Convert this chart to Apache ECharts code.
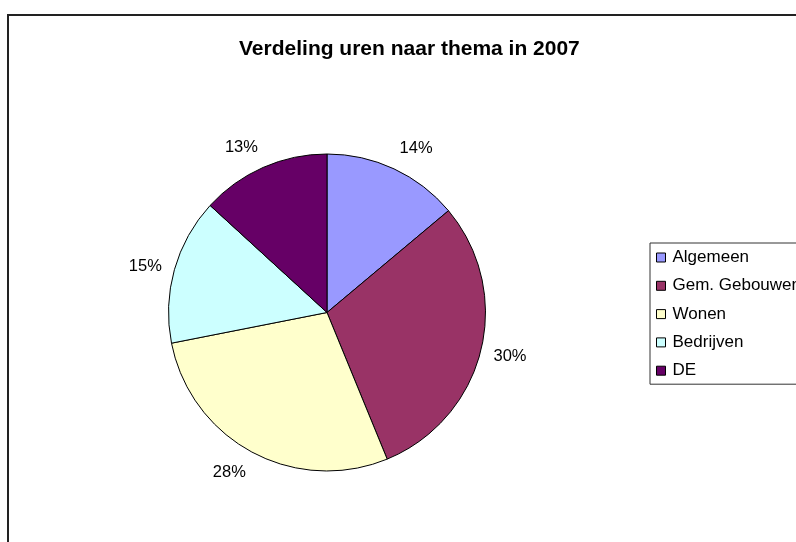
<!DOCTYPE html>
<html>
<head>
<meta charset="utf-8">
<script src="https://cdn.jsdelivr.net/npm/echarts@6/dist/echarts.min.js"></script>
<style>
html,body{margin:0;padding:0;background:#fff;}
#chart{width:796px;height:542px;}
</style>
</head>
<body>
<div id="chart"></div>
<script>
const titleText = 'Verdeling uren naar thema in 2007';
const categories = ['Algemeen', 'Gem. Gebouwen', 'Wonen', 'Bedrijven', 'DE'];
const values = [13.9, 29.9, 28.1, 14.9, 13.2];
const colors = ['#9999FF', '#993366', '#FFFFCC', '#CCFFFF', '#660066'];

const CX = 327, CY = 312.5, R = 158.5, LABEL_OFF = 13;
const FONT = "Arial, 'Liberation Sans', Helvetica, sans-serif";

const total = values.reduce((a, b) => a + b, 0);
const mids = [];
let acc = 0;
values.forEach(v => { mids.push((acc + v / 2) / total * 2 * Math.PI); acc += v; });

const chart = echarts.init(document.getElementById('chart'), null, {renderer: 'canvas'});
chart.setOption({
  animation: false,
  backgroundColor: '#ffffff',
  title: {
    text: titleText,
    left: 234,
    top: 34,
    textStyle: {fontFamily: FONT, fontSize: 21, fontWeight: 'bold', color: '#000'}
  },
  graphic: [{
    type: 'rect',
    shape: {x: 8, y: 15, width: 900, height: 700},
    style: {fill: 'none', stroke: '#222', lineWidth: 2},
    silent: true
  }],
  legend: {
    orient: 'vertical',
    left: 650,
    top: 243,
    padding: [6, 20, 5, 6],
    itemWidth: 9,
    itemHeight: 9,
    itemGap: 11.3,
    icon: 'rect',
    borderColor: '#333',
    borderWidth: 1,
    itemStyle: {borderColor: '#000', borderWidth: 1},
    textStyle: {fontFamily: FONT, fontSize: 17, lineHeight: 17, color: '#000', padding: [0, 0, 0, 2]},
    data: categories
  },
  series: [{
    type: 'pie',
    center: [CX, CY],
    radius: R,
    startAngle: 90,
    clockwise: true,
    avoidLabelOverlap: false,
    percentPrecision: 0,
    itemStyle: {borderColor: '#000', borderWidth: 1},
    label: {
      show: true,
      position: 'outside',
      formatter: '{d}%',
      fontFamily: FONT,
      fontSize: 16.5,
      color: '#000'
    },
    labelLine: {show: false},
    labelLayout: function (p) {
      const a = mids[p.dataIndex];
      const dx = Math.sin(a), dy = -Math.cos(a);
      const d = R + LABEL_OFF;
      return {
        x: CX + d * dx,
        y: CY + d * dy + (Math.abs(dy) <= 0.5 && dy > 0 ? 3 : 0),
        align: Math.abs(dx) > 0.3 ? (dx > 0 ? 'left' : 'right') : 'center',
        verticalAlign: Math.abs(dy) > 0.5 ? (dy > 0 ? 'top' : 'bottom') : 'middle'
      };
    },
    emphasis: {disabled: true},
    data: categories.map((c, i) => ({name: c, value: values[i], itemStyle: {color: colors[i]}}))
  }]
});
</script>
</body>
</html>
